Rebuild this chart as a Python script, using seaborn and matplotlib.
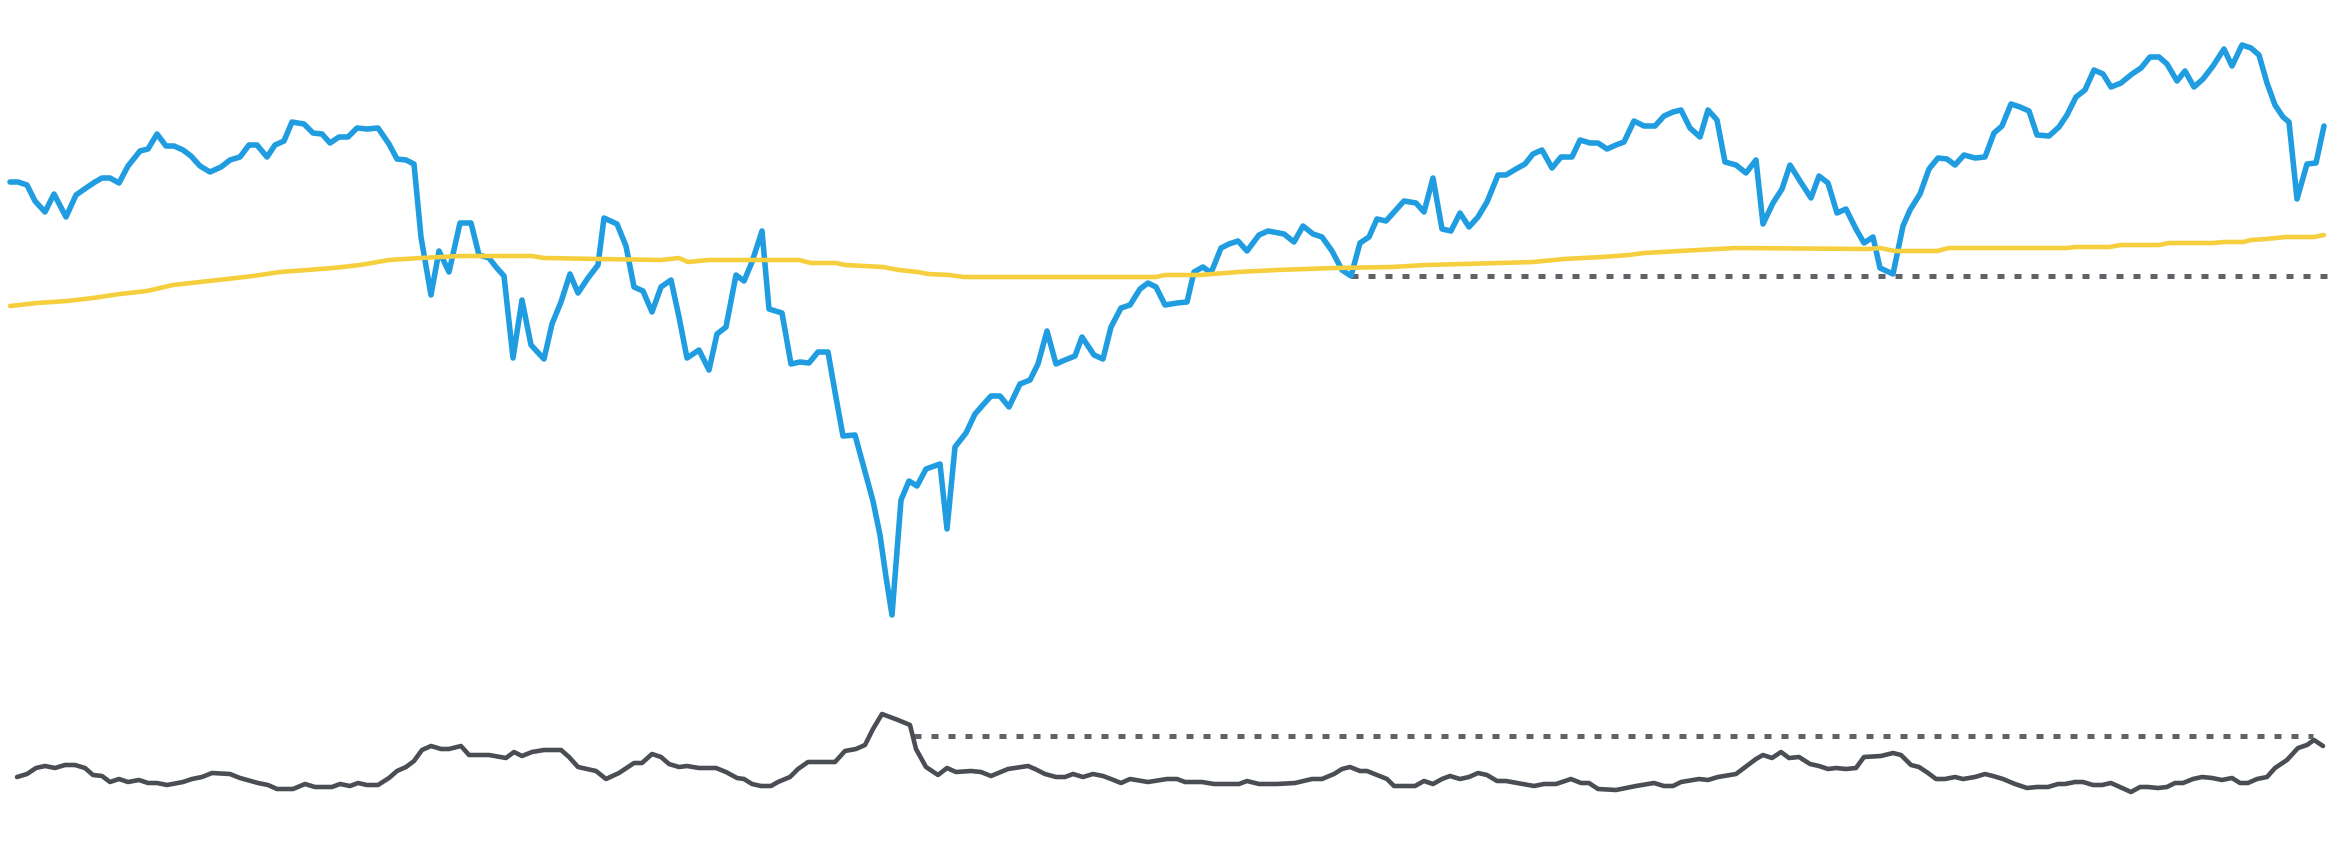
import pandas as pd
import matplotlib
matplotlib.use("Agg")
import matplotlib.pyplot as plt
import seaborn as sns

# price series (blue)
blue_days = [10, 18, 27, 35, 45, 54, 66, 76, 86, 95,
             102, 110, 119, 128, 140, 148, 157, 166, 174, 183,
             191, 200, 210, 221, 230, 240, 249, 257, 267, 275,
             284, 292, 304, 313, 322, 330, 339, 348, 357, 367,
             378, 389, 397, 406, 414, 421, 431, 439, 449, 460,
             471, 479, 489, 496, 504, 513, 522, 531, 544, 552,
             561, 570, 578, 588, 598, 604, 617, 626, 634, 643,
             652, 661, 671, 679, 687, 699, 709, 717, 726, 736,
             744, 752, 762, 769, 782, 791, 800, 809, 818, 828,
             835, 843, 855, 864, 873, 880, 886, 892, 901, 909,
             917, 926, 940, 947, 955, 966, 975, 982, 991, 1000,
             1009, 1020, 1030, 1038, 1047, 1056, 1065, 1075, 1082, 1094,
             1103, 1111, 1121, 1130, 1140, 1148, 1156, 1165, 1177, 1187,
             1194, 1203, 1211, 1221, 1229, 1238, 1247, 1259, 1268, 1284,
             1294, 1303, 1313, 1322, 1332, 1342, 1351, 1360, 1369, 1377,
             1386, 1395, 1404, 1416, 1424, 1433, 1442, 1451, 1460, 1469,
             1478, 1487, 1498, 1506, 1516, 1525, 1533, 1542, 1552, 1561,
             1572, 1580, 1590, 1598, 1607, 1616, 1624, 1634, 1644, 1655,
             1664, 1673, 1681, 1690, 1700, 1708, 1717, 1725, 1736, 1746,
             1756, 1763, 1773, 1782, 1790, 1800, 1811, 1819, 1828, 1837,
             1846, 1856, 1864, 1873, 1880, 1893, 1903, 1910, 1920, 1929,
             1938, 1947, 1955, 1964, 1975, 1985, 1994, 2002, 2011, 2020,
             2029, 2037, 2049, 2059, 2067, 2076, 2085, 2094, 2103, 2111,
             2121, 2132, 2141, 2150, 2159, 2167, 2177, 2185, 2194, 2203,
             2213, 2224, 2232, 2242, 2251, 2259, 2267, 2275, 2283, 2289,
             2297, 2307, 2316, 2324]
blue_price = [68.3, 68.3, 68.0, 66.4, 65.3, 67.1, 64.8, 67.0, 67.7, 68.3,
              68.7, 68.7, 68.2, 69.9, 71.4, 71.6, 73.1, 71.9, 71.9, 71.5,
              70.9, 69.9, 69.3, 69.8, 70.5, 70.8, 72.0, 72.0, 70.8, 72.0,
              72.4, 74.3, 74.1, 73.2, 73.1, 72.2, 72.8, 72.8, 73.7, 73.6,
              73.7, 72.1, 70.6, 70.5, 70.1, 62.8, 57.0, 61.4, 59.3, 64.2,
              64.2, 61.0, 60.7, 59.8, 58.9, 50.7, 56.5, 52.0, 50.6, 54.1,
              56.3, 59.1, 57.2, 58.7, 60.0, 64.7, 64.1, 61.9, 57.8, 57.4,
              55.3, 57.8, 58.5, 54.8, 50.7, 51.5, 49.5, 53.1, 53.8, 59.0,
              58.4, 60.3, 63.4, 55.6, 55.2, 50.1, 50.3, 50.2, 51.3, 51.3,
              47.3, 42.9, 43.0, 39.7, 36.4, 33.0, 28.8, 25.0, 36.5, 38.4,
              37.9, 39.6, 40.1, 33.6, 41.8, 43.2, 45.1, 45.9, 46.9, 46.9,
              45.8, 48.1, 48.5, 50.1, 53.4, 50.1, 50.5, 50.9, 52.8, 51.0,
              50.6, 53.8, 55.7, 56.0, 57.6, 58.2, 57.8, 56.0, 56.2, 56.3,
              59.3, 59.8, 59.2, 61.7, 62.1, 62.4, 61.4, 63.0, 63.4, 63.1,
              62.3, 63.9, 63.1, 62.8, 61.4, 59.5, 58.9, 62.2, 62.8, 64.6,
              64.4, 65.4, 66.4, 66.2, 65.3, 68.7, 63.6, 63.4, 65.2, 63.8,
              64.8, 66.3, 69.0, 69.0, 69.6, 70.1, 71.1, 71.5, 69.7, 70.8,
              70.8, 72.5, 72.2, 72.2, 71.6, 72.0, 72.3, 74.4, 73.9, 73.9,
              74.9, 75.3, 75.5, 73.7, 72.8, 75.5, 74.5, 70.3, 70.0, 69.2,
              70.5, 64.1, 66.2, 67.6, 70.0, 68.4, 66.7, 68.9, 68.2, 65.2,
              65.6, 63.6, 62.2, 62.8, 59.7, 59.1, 63.9, 65.5, 67.1, 69.6,
              70.7, 70.6, 70.0, 71.0, 70.7, 70.8, 73.2, 73.9, 76.1, 75.8,
              75.4, 73.0, 72.9, 73.8, 75.0, 76.8, 77.5, 79.5, 79.1, 77.8,
              78.2, 79.1, 79.7, 80.8, 80.8, 80.1, 78.4, 79.4, 77.8, 78.6,
              79.9, 81.6, 79.9, 82.0, 81.7, 81.0, 78.2, 76.0, 74.8, 74.3,
              66.6, 70.1, 70.2, 73.9]

# moving average (yellow)
ma_days = [10, 37, 67, 93, 120, 147, 173, 200, 227, 253,
           280, 307, 333, 360, 389, 421, 460, 532, 544, 600,
           661, 679, 688, 709, 799, 811, 836, 845, 864, 883,
           899, 918, 928, 949, 964, 1156, 1165, 1200, 1238, 1277,
           1334, 1392, 1426, 1499, 1533, 1564, 1602, 1629, 1644, 1698,
           1736, 1868, 1880, 1895, 1937, 1949, 2067, 2075, 2109, 2121,
           2159, 2169, 2213, 2224, 2243, 2251, 2266, 2286, 2314, 2324]
ma_price = [55.9, 56.2, 56.4, 56.7, 57.1, 57.4, 58.0, 58.3, 58.6, 58.9,
            59.3, 59.5, 59.7, 60.0, 60.5, 60.7, 60.9, 60.9, 60.7, 60.6,
            60.5, 60.7, 60.3, 60.5, 60.5, 60.2, 60.2, 60.0, 59.9, 59.8,
            59.5, 59.3, 59.1, 59.0, 58.8, 58.8, 59.0, 59.0, 59.3, 59.5,
            59.7, 59.8, 60.0, 60.2, 60.3, 60.6, 60.8, 61.0, 61.2, 61.5,
            61.7, 61.6, 61.7, 61.4, 61.4, 61.7, 61.7, 61.8, 61.8, 62.0,
            62.0, 62.2, 62.2, 62.3, 62.3, 62.5, 62.6, 62.8, 62.8, 63.0]

# lower indicator (dark grey)
osc_days = [17, 27, 36, 45, 55, 65, 75, 85, 93, 102,
            110, 119, 128, 139, 148, 157, 167, 183, 192, 202,
            212, 230, 240, 258, 268, 277, 293, 305, 315, 332,
            340, 350, 358, 367, 378, 389, 397, 406, 414, 422,
            431, 441, 449, 461, 469, 489, 506, 514, 522, 532,
            544, 561, 569, 578, 596, 606, 619, 634, 642, 652,
            661, 669, 679, 687, 699, 716, 726, 737, 744, 752,
            761, 771, 778, 790, 798, 808, 835, 845, 856, 865,
            873, 882, 898, 910, 916, 926, 938, 947, 956, 971,
            981, 991, 1008, 1028, 1035, 1045, 1056, 1065, 1073, 1083,
            1093, 1103, 1111, 1121, 1130, 1148, 1167, 1177, 1185, 1202,
            1214, 1239, 1247, 1259, 1277, 1295, 1312, 1322, 1334, 1342,
            1350, 1360, 1367, 1377, 1387, 1394, 1415, 1424, 1433, 1442,
            1450, 1460, 1469, 1478, 1487, 1497, 1506, 1517, 1534, 1544,
            1556, 1571, 1581, 1589, 1598, 1616, 1636, 1654, 1664, 1673,
            1681, 1699, 1708, 1718, 1736, 1748, 1756, 1763, 1772, 1781,
            1789, 1799, 1810, 1819, 1828, 1836, 1846, 1856, 1864, 1881,
            1893, 1901, 1911, 1919, 1928, 1936, 1945, 1955, 1963, 1975,
            1985, 1993, 2003, 2015, 2027, 2037, 2048, 2058, 2065, 2075,
            2083, 2093, 2102, 2111, 2120, 2131, 2140, 2148, 2158, 2167,
            2175, 2183, 2193, 2202, 2212, 2222, 2232, 2240, 2248, 2257,
            2267, 2275, 2287, 2298, 2307, 2314, 2323]
osc_value = [8.8, 9.1, 9.7, 9.9, 9.7, 10.0, 10.0, 9.7, 9.0, 8.9,
             8.3, 8.6, 8.3, 8.5, 8.2, 8.2, 8.0, 8.3, 8.6, 8.8,
             9.2, 9.1, 8.7, 8.2, 8.0, 7.6, 7.6, 8.1, 7.8, 7.8,
             8.1, 7.9, 8.2, 8.0, 8.0, 8.7, 9.4, 9.8, 10.4, 11.5,
             11.9, 11.6, 11.6, 11.9, 11.0, 11.0, 10.7, 11.3, 10.9, 11.3,
             11.5, 11.5, 10.8, 9.8, 9.4, 8.6, 9.2, 10.2, 10.2, 11.1,
             10.8, 10.1, 9.8, 9.9, 9.7, 9.7, 9.3, 8.7, 8.6, 8.1,
             7.9, 7.9, 8.3, 8.8, 9.6, 10.3, 10.3, 11.4, 11.6, 12.0,
             13.6, 15.1, 14.5, 14.0, 11.6, 9.8, 9.0, 9.7, 9.3, 9.4,
             9.3, 8.9, 9.6, 9.9, 9.6, 9.1, 8.8, 8.8, 9.1, 8.8,
             9.1, 8.9, 8.6, 8.2, 8.6, 8.3, 8.6, 8.6, 8.3, 8.3,
             8.1, 8.1, 8.4, 8.1, 8.1, 8.2, 8.6, 8.6, 9.1, 9.6,
             9.8, 9.4, 9.4, 9.0, 8.6, 7.9, 7.9, 8.4, 8.1, 8.6,
             8.9, 8.6, 8.8, 9.2, 9.0, 8.4, 8.4, 8.2, 7.9, 8.1,
             8.1, 8.6, 8.2, 8.2, 7.6, 7.5, 7.9, 8.2, 7.9, 7.9,
             8.3, 8.6, 8.5, 8.8, 9.1, 10.0, 10.6, 11.0, 10.7, 11.3,
             10.7, 10.8, 10.1, 9.9, 9.6, 9.7, 9.6, 9.7, 10.8, 10.9,
             11.2, 11.0, 10.0, 9.8, 9.2, 8.6, 8.6, 8.8, 8.6, 8.8,
             9.1, 8.9, 8.6, 8.1, 7.7, 7.8, 7.8, 8.1, 8.1, 8.3,
             8.3, 8.0, 8.0, 8.2, 7.8, 7.3, 7.8, 7.8, 7.7, 7.8,
             8.2, 8.2, 8.6, 8.8, 8.7, 8.5, 8.7, 8.2, 8.2, 8.6,
             8.8, 9.7, 10.5, 11.7, 12.0, 12.5, 11.9]

# reference levels (dotted)
support_start = 1351
support_level = blue_price[blue_days.index(support_start)]
osc_start, osc_end, osc_level = 914, 2313, 12.9

price_df = pd.DataFrame({"day": blue_days, "price": blue_price})
ma_df = pd.DataFrame({"day": ma_days, "price": ma_price})
osc_df = pd.DataFrame({"day": osc_days, "value": osc_value})

BLUE = "#1f9de0"
YELLOW = "#f6cf3f"
GREY = "#4a4e54"
DOTS = "#616267"

sns.set_theme(style="white")

W, H = 2334, 865
fig = plt.figure(figsize=(W / 100, H / 100), dpi=100)
fig.patch.set_facecolor("white")
ax1 = fig.add_axes([0, (H - 650) / H, 1, 650 / H])
ax2 = fig.add_axes([0, 0, 1, 185 / H], sharex=ax1)

dotted = dict(color=DOTS, linewidth=3.6, linestyles=(0, (1.4, 2.0)), zorder=1)
ax1.hlines(support_level, support_start, W, **dotted)
ax2.hlines(osc_level, osc_start, osc_end, **dotted)

sns.lineplot(data=price_df, x="day", y="price", ax=ax1, color=BLUE,
             linewidth=4.0, estimator=None, sort=False, zorder=2)
sns.lineplot(data=ma_df, x="day", y="price", ax=ax1, color=YELLOW,
             linewidth=3.3, estimator=None, sort=False, zorder=3)
sns.lineplot(data=osc_df, x="day", y="value", ax=ax2, color=GREY,
             linewidth=3.3, estimator=None, sort=False, zorder=2)

ax1.set_xlim(0, W)
ax1.set_ylim(21.5, 86.5)
ax2.set_ylim(0, 18.5)

for ax in (ax1, ax2):
    ax.set_axis_off()
    for line in ax.get_lines():
        line.set_clip_on(False)

fig.savefig("out.png", dpi=100, facecolor="white")
